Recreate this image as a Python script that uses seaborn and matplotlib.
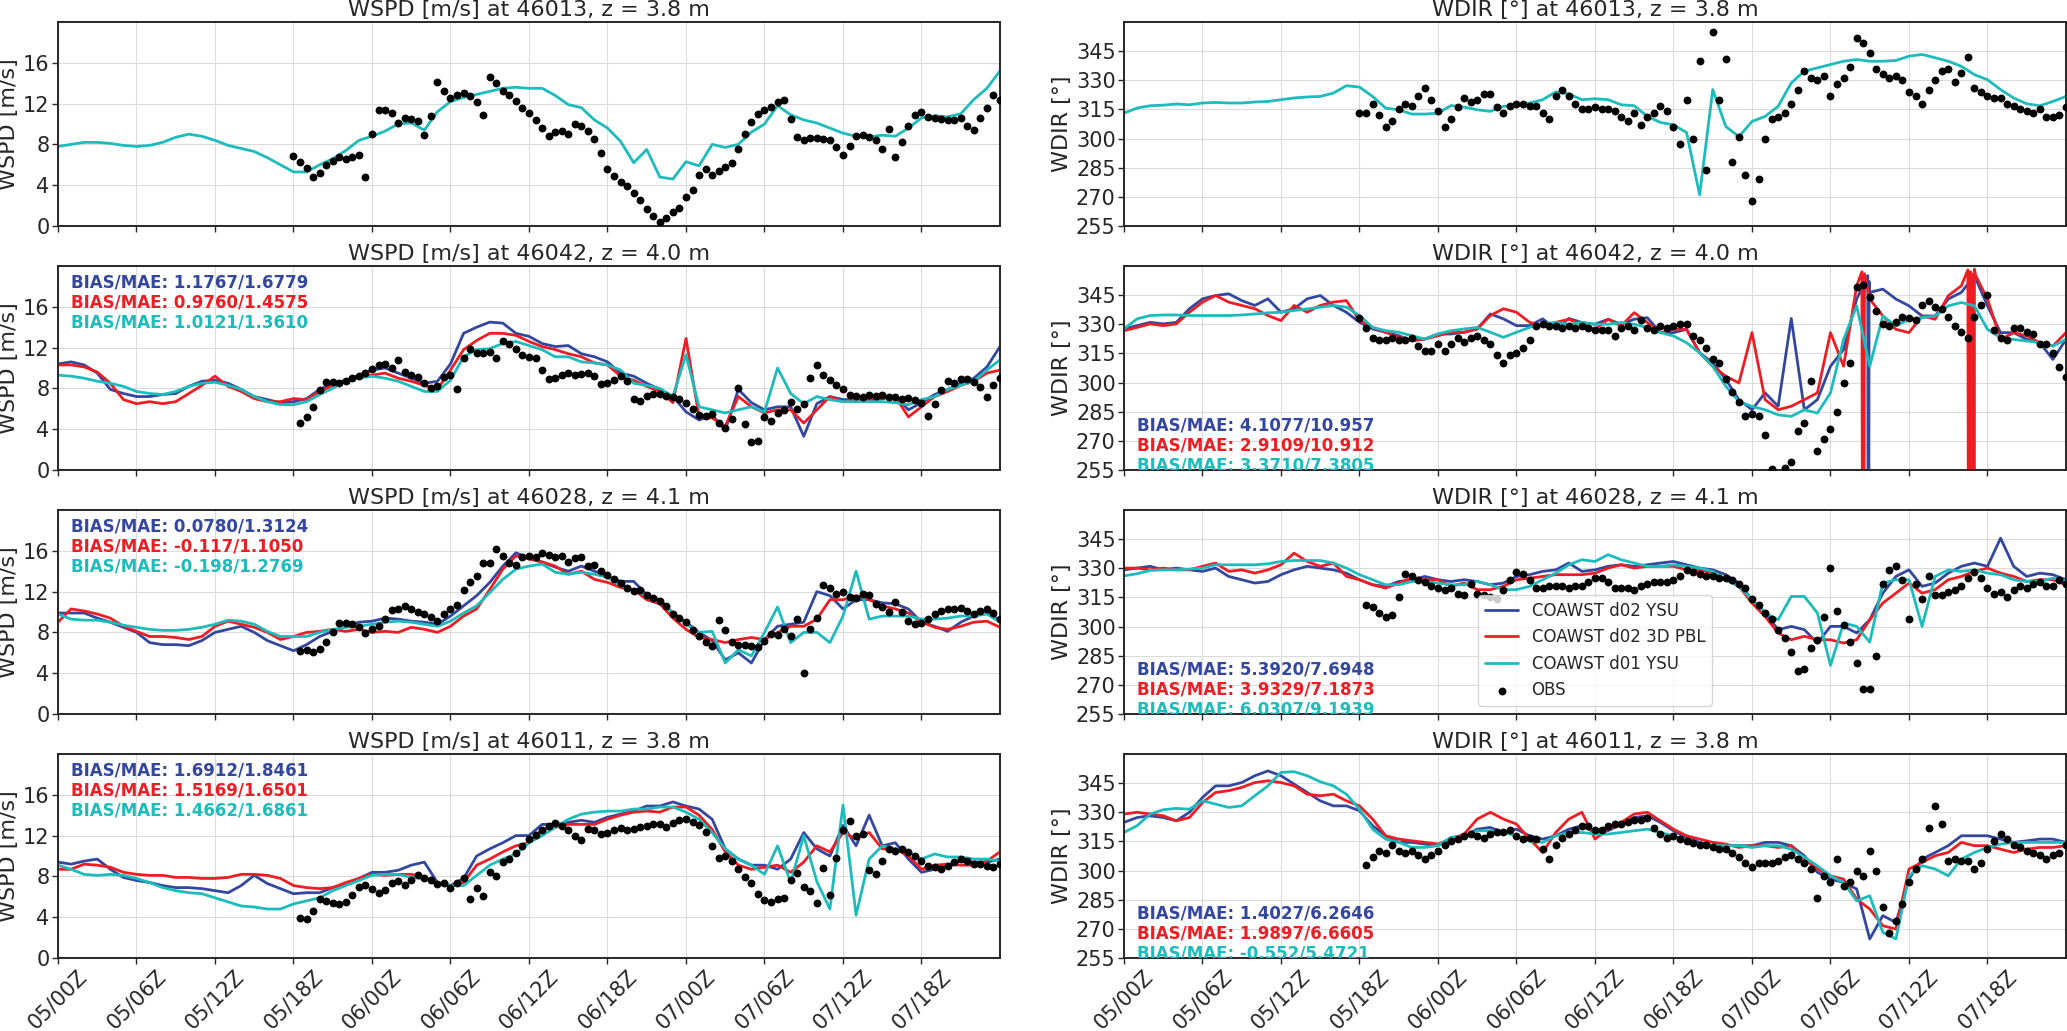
import numpy as np
import pandas as pd
import matplotlib
matplotlib.use("Agg")
import matplotlib.pyplot as plt
import seaborn as sns

# ---- time axes (hours after 05/00Z) ----
START = pd.Timestamp("2000-01-05 00:00")
hours_model = np.arange(0, 73)
hours_obs = np.arange(18, 72.5, 0.5)
tick_hours = np.arange(0, 72, 6)
tick_labels = ["05/00Z", "05/06Z", "05/12Z", "05/18Z", "06/00Z", "06/06Z",
               "06/12Z", "06/18Z", "07/00Z", "07/06Z", "07/12Z", "07/18Z"]

stations = ["46013", "46042", "46028", "46011"]
heights = ["3.8", "4.0", "4.1", "3.8"]

model_labels = ["COAWST d02 YSU", "COAWST d02 3D PBL", "COAWST d01 YSU"]
model_colors = ["#34479f", "#ee1d24", "#1cbcbc"]

# ---- BIAS/MAE strings (rows 46042, 46028, 46011) ----
wspd_stats = [
    ["1.1767/1.6779", "0.9760/1.4575", "1.0121/1.3610"],
    ["0.0780/1.3124", "-0.117/1.1050", "-0.198/1.2769"],
    ["1.6912/1.8461", "1.5169/1.6501", "1.4662/1.6861"],
]
wdir_stats = [
    ["4.1077/10.957", "2.9109/10.912", "3.3710/7.3805"],
    ["5.3920/7.6948", "3.9329/7.1873", "6.0307/9.1939"],
    ["1.4027/6.2646", "1.9897/6.6605", "-0.552/5.4721"],
]

# ================= 46013 =================
wspd_46013_d01 = [
    7.8, 8.0, 8.2, 8.2, 8.1, 7.9, 7.8, 7.9, 8.2, 8.7, 9.0, 8.8,
    8.4, 7.9, 7.6, 7.3, 6.7, 6.0, 5.3, 5.3, 6.0, 6.6, 7.4, 8.4,
    8.8, 9.3, 10.0, 10.1, 9.4, 11.2, 12.2, 12.6, 12.9, 13.2, 13.5, 13.6,
    13.5, 13.5, 12.8, 11.9, 11.6, 10.4, 9.6, 8.3, 6.2, 7.5, 4.8, 4.6,
    6.3, 5.9, 8.0, 7.7, 8.0, 9.2, 10.0, 11.8, 10.9, 10.4, 10.1, 9.6,
    9.1, 8.8, 8.75, 8.9, 8.8, 9.6, 10.6, 10.8, 10.7, 11.0, 12.4, 13.5,
    15.2]
wspd_46013_obs = [
    6.9, 6.3, 5.7, 4.8, 5.2, 6.0, 6.4, 6.8, 6.6, 6.8, 7.0, 4.8,
    9.0, 11.4, 11.4, 11.1, 10.1, 10.6, 10.5, 10.3, 8.9, 10.8, 14.1, 13.2,
    12.5, 12.8, 13.0, 12.7, 12.2, 10.9, 14.6, 14.0, 13.2, 12.8, 12.3, 11.6,
    11.1, 10.4, 9.6, 8.8, 9.2, 9.3, 9.0, 10.0, 9.8, 9.3, 8.5, 7.2,
    5.6, 4.9, 4.3, 3.9, 3.2, 2.5, 1.7, 1.0, 0.4, 0.8, 1.4, 1.8,
    2.8, 3.5, 5.0, 5.6, 5.0, 5.4, 5.8, 6.2, 7.5, 9.0, 10.2, 11.0,
    11.4, 11.7, 12.2, 12.4, 10.5, 8.7, 8.4, 8.6, 8.6, 8.5, 8.4, 7.7,
    7.0, 7.8, 8.8, 8.9, 8.7, 8.4, 7.5, 9.5, 6.8, 8.2, 9.8, 10.9,
    11.2, 10.7, 10.6, 10.5, 10.4, 10.4, 10.6, 9.8, 9.4, 10.6, 11.6, 12.8,
    12.4]
wdir_46013_d01 = [
    313.1, 315.7, 316.9, 317.2, 317.8, 317.4, 318.3, 318.6, 318.3, 318.3, 318.8, 319.1,
    320.0, 320.9, 321.4, 321.7, 323.4, 327.2, 326.5, 321.7, 315.7, 314.8, 312.6, 312.6,
    313.1, 317.0, 316.2, 314.8, 314.0, 316.6, 316.9, 318.3, 320.0, 324.0, 323.0, 320.0,
    320.5, 320.0, 317.4, 316.9, 311.4, 308.3, 307.1, 303.1, 271.0, 325.2, 306.2, 301.0,
    308.8, 311.4, 316.6, 328.6, 334.7, 336.4, 338.1, 339.8, 340.7, 339.8, 339.8, 340.2,
    342.4, 343.3, 341.6, 339.8, 337.2, 332.9, 330.3, 325.2, 320.9, 317.9, 316.9, 319.1,
    321.7]
wdir_46013_obs = [
    313, 313, 318, 312, 306, 309, 315, 318, 317, 322, 326, 320,
    314, 306, 310, 316, 321, 319, 320, 323, 323, 316, 313, 317,
    318, 318, 317, 317, 313, 310, 322, 325, 322, 318, 315, 315,
    316, 315, 315, 314, 311, 309, 313, 307, 311, 313, 317, 314,
    306, 297, 320, 300, 340, 284, 355, 320, 341, 288, 301, 281,
    268, 279, 300, 310, 311, 313, 318, 325, 335, 331, 330, 332,
    322, 328, 331, 337, 352, 349, 344, 336, 333, 331, 332, 330,
    324, 322, 318, 325, 330, 335, 336, 329, 334, 342, 326, 324,
    322, 321, 321, 318, 317, 315, 314, 313, 315, 311, 311, 312,
    316]

# ================= 46042 =================
wspd_46042_d02_ysu = [
    10.4, 10.6, 10.3, 9.5, 7.9, 7.5, 7.2, 7.2, 7.4, 7.5, 8.2, 8.7,
    8.8, 8.5, 7.9, 7.2, 6.9, 6.6, 6.7, 7.0, 7.9, 8.5, 8.8, 9.3,
    9.8, 10.0, 9.5, 9.0, 8.5, 8.7, 10.4, 13.4, 14.0, 14.5, 14.4, 13.4,
    13.1, 12.4, 12.1, 12.2, 11.4, 11.1, 10.6, 9.5, 9.2, 8.5, 7.9, 7.2,
    5.7, 4.9, 5.4, 3.9, 7.9, 6.6, 5.9, 6.2, 6.2, 3.3, 6.5, 7.2,
    6.9, 6.9, 6.7, 7.0, 7.2, 5.9, 6.6, 7.4, 7.9, 8.5, 9.0, 10.1,
    12.1]
wspd_46042_d02_3d = [
    10.3, 10.3, 10.1, 9.6, 8.5, 6.9, 6.5, 6.7, 6.5, 6.7, 7.5, 8.3,
    9.2, 8.2, 7.7, 7.0, 6.7, 6.7, 7.0, 6.9, 7.7, 8.3, 8.7, 9.2,
    9.3, 9.5, 9.0, 8.7, 8.3, 7.9, 9.8, 11.8, 12.7, 13.4, 13.4, 13.2,
    12.6, 12.1, 11.8, 11.4, 11.1, 10.5, 10.3, 9.2, 8.8, 8.2, 7.7, 6.6,
    12.9, 5.2, 5.1, 4.3, 7.2, 6.2, 5.6, 5.9, 5.9, 4.6, 5.9, 7.2,
    6.7, 6.9, 6.9, 7.0, 7.2, 5.2, 6.2, 7.2, 7.7, 8.3, 8.7, 9.5,
    9.8]
wspd_46042_d01_ysu = [
    9.3, 9.2, 9.0, 8.7, 8.5, 8.2, 7.7, 7.5, 7.4, 7.7, 8.2, 8.5,
    8.6, 8.3, 7.9, 7.2, 6.7, 6.4, 6.4, 6.7, 7.4, 8.0, 8.8, 9.0,
    9.2, 9.0, 8.7, 8.2, 7.7, 7.7, 8.8, 11.1, 11.8, 11.9, 12.4, 12.6,
    12.2, 11.8, 11.1, 11.1, 10.6, 10.5, 10.3, 9.8, 8.5, 8.3, 8.0, 7.2,
    11.3, 6.2, 5.9, 5.6, 5.9, 6.2, 5.7, 10.0, 7.5, 6.5, 7.2, 6.9,
    6.7, 6.7, 6.7, 6.7, 6.6, 6.4, 6.9, 7.2, 7.9, 8.3, 8.7, 9.8,
    10.8]
wspd_46042_obs = [
    np.nan, 4.6, 5.2, 6.2, 7.8, 8.6, 8.6, 8.5, 8.7, 9.0, 9.2, 9.5,
    9.9, 10.3, 10.4, 10.0, 10.8, 9.6, 9.3, 9.1, 8.5, 8.0, 8.2, 9.1,
    9.3, 7.9, 11.0, 11.9, 11.5, 11.5, 11.6, 11.0, 12.6, 12.4, 11.9, 11.3,
    11.1, 11.0, 9.8, 8.9, 9.0, 9.3, 9.5, 9.3, 9.4, 9.5, 9.2, 8.4,
    8.5, 8.8, 9.2, 8.7, 7.0, 6.8, 7.3, 7.5, 7.5, 7.3, 7.2, 7.0,
    6.6, 6.0, 5.4, 5.3, 5.5, 4.6, 4.1, 5.0, 8.0, 4.5, 2.7, 2.8,
    5.2, 4.8, 5.6, 5.9, 6.7, 6.0, 6.5, 9.0, 10.3, 9.3, 8.8, 8.3,
    7.9, 7.4, 7.3, 7.2, 7.4, 7.3, 7.4, 7.2, 7.2, 7.0, 7.1, 6.9,
    6.6, 5.3, 6.5, 7.8, 8.7, 8.5, 8.9, 8.9, 8.6, 8.1, 7.2, 8.3,
    9.0]
wdir_46042_d02_ysu = [
    327.6, 329.3, 331.0, 330.2, 331.0, 338.0, 343.1, 344.8, 345.7, 342.2, 339.7, 343.1,
    336.2, 338.0, 343.1, 344.8, 339.7, 336.2, 331.0, 327.6, 325.9, 324.1, 321.6, 322.4,
    325.0, 325.0, 325.9, 327.6, 335.3, 332.8, 329.3, 329.3, 332.8, 327.6, 333.0, 330.9,
    330.0, 332.6, 330.0, 332.6, 333.4, 325.7, 325.7, 327.4, 315.3, 310.2, 301.6, 291.2,
    286.0, 294.7, 287.8, 333.0, 286.0, 291.2, 308.4, 317.0, 343.0, 346.4, 348.1, 343.0,
    339.5, 334.3, 334.3, 343.0, 346.4, 355.0, 339.5, 325.7, 325.7, 322.2, 320.5, 311.9,
    322.2]
wdir_46042_d02_3d = [
    326.7, 328.4, 330.2, 329.3, 330.2, 336.2, 341.4, 344.8, 341.4, 339.7, 338.0, 334.5,
    331.9, 339.7, 336.2, 339.7, 341.4, 342.2, 331.9, 328.4, 325.9, 323.3, 321.6, 322.4,
    324.1, 325.9, 325.9, 327.6, 334.5, 338.0, 336.2, 331.0, 329.3, 331.0, 332.6, 330.0,
    327.4, 332.6, 329.1, 336.0, 330.9, 325.7, 327.4, 327.4, 315.3, 308.4, 303.3, 299.8,
    325.7, 291.2, 286.0, 287.8, 291.2, 294.7, 325.7, 308.4, 349.8, 343.0, 334.3, 327.4,
    325.7, 334.3, 332.6, 344.7, 349.8, 358.4, 343.0, 322.2, 325.7, 324.0, 320.5, 318.8,
    325.7]
wdir_46042_d01_ysu = [
    327.6, 332.8, 334.5, 334.8, 334.8, 334.5, 334.5, 334.5, 334.5, 334.8, 335.3, 335.9,
    336.2, 337.1, 337.9, 338.8, 339.7, 338.8, 334.5, 328.4, 326.7, 325.9, 324.1, 322.4,
    325.0, 326.7, 327.6, 328.4, 325.9, 323.3, 325.9, 328.4, 330.2, 331.0, 330.0, 330.9,
    330.0, 330.0, 330.9, 330.0, 328.3, 325.7, 324.0, 320.5, 315.3, 308.4, 298.1, 290.3,
    287.7, 286.0, 283.4, 282.6, 286.0, 284.3, 294.7, 322.2, 339.5, 308.4, 334.3, 329.1,
    332.6, 333.4, 334.3, 339.5, 341.2, 339.5, 327.4, 323.1, 322.2, 321.4, 320.5, 318.8,
    322.2]
# direction wrapping through north (360 -> 0) at 46042
wdir_46042_wrap_hours_3d = [56.4, 56.5, 56.6, 64.5, 64.6, 64.7, 64.8, 64.9, 65.0, 65.1]
wdir_46042_wrap_values_3d = [357, 3, 356, 358, 2, 357, 4, 356, 2, 355]
wdir_46042_wrap_hours_ysu = [56.85, 56.9, 56.95]
wdir_46042_wrap_values_ysu = [355, 2, 352]
wdir_46042_obs = [
    333, 328, 323, 322, 322, 323, 322, 322, 323, 319, 316, 316,
    320, 316, 320, 323, 321, 323, 324, 322, 320, 314, 310, 314,
    315, 318, 322, 329, 330, 329, 329, 328, 329, 328, 329, 328,
    327, 327, 327, 324, 328, 329, 327, 332, 328, 327, 329, 328,
    329, 330, 330, 324, 322, 318, 312, 310, 302, 295, 290, 283,
    284, 283, 273, 255.5, np.nan, 256, 259, 275, 279, 301, 265, 271,
    276, 285, 300, 310, 349, 350, 344, 337, 330, 329, 331, 334,
    333, 332, 340, 342, 339, 338, 334, 329, 326, 323, 334, 340,
    345, 327, 323, 322, 328, 328, 326, 325, 320, 320, 315, 308,
    303]

# ================= 46028 =================
wspd_46028_d02_ysu = [
    9.9, 9.9, 9.9, 9.4, 9.0, 8.5, 8.0, 7.0, 6.8, 6.8, 6.7, 7.2,
    8.0, 8.3, 8.6, 8.0, 7.2, 6.7, 6.2, 6.8, 7.6, 8.1, 8.6, 9.0,
    9.1, 9.4, 9.3, 9.1, 9.0, 8.8, 9.6, 10.6, 11.6, 12.9, 14.5, 15.8,
    15.3, 14.9, 14.4, 14.0, 14.5, 14.0, 13.5, 13.0, 13.0, 11.7, 11.2, 9.9,
    9.0, 8.0, 7.2, 5.3, 6.0, 5.0, 7.3, 8.6, 8.8, 9.0, 12.0, 11.6,
    10.3, 11.2, 11.2, 10.9, 10.8, 10.3, 9.0, 8.6, 8.1, 9.0, 9.6, 10.1,
    9.1]
wspd_46028_d02_3d = [
    9.0, 10.3, 10.1, 9.8, 9.4, 8.6, 8.1, 7.6, 7.6, 7.5, 7.3, 7.6,
    8.6, 9.1, 8.8, 8.5, 8.0, 7.3, 7.6, 8.0, 8.1, 8.3, 8.1, 8.3,
    8.0, 8.1, 8.0, 8.5, 8.3, 8.0, 8.6, 9.6, 10.3, 12.2, 14.2, 15.5,
    15.2, 14.9, 14.5, 13.7, 14.0, 13.2, 12.9, 12.4, 12.2, 11.2, 10.8, 9.4,
    8.3, 7.5, 7.3, 7.0, 7.3, 7.5, 7.3, 8.0, 8.6, 8.6, 9.3, 11.2,
    11.2, 11.6, 11.2, 10.6, 10.3, 9.9, 9.0, 8.5, 8.3, 8.6, 9.0, 9.1,
    8.5]
wspd_46028_d01_ysu = [
    9.8, 9.3, 9.2, 9.2, 9.0, 8.7, 8.5, 8.3, 8.2, 8.2, 8.3, 8.5,
    8.8, 9.2, 9.1, 8.8, 8.1, 7.6, 7.6, 7.6, 8.0, 8.3, 8.5, 8.6,
    8.8, 9.0, 9.1, 9.0, 8.8, 8.6, 9.1, 9.9, 10.6, 11.9, 13.2, 14.2,
    14.5, 14.7, 13.9, 13.7, 13.9, 13.7, 13.4, 12.6, 12.2, 11.6, 11.1, 9.9,
    8.8, 8.0, 8.1, 5.0, 6.3, 5.7, 8.0, 10.5, 7.0, 8.0, 8.0, 7.0,
    9.6, 14.0, 9.3, 9.6, 9.6, 9.6, 9.3, 9.3, 9.4, 9.6, 9.6, 9.8,
    9.0]
wspd_46028_obs = [
    np.nan, 6.2, 6.3, 6.1, 6.4, 7.1, 8.0, 8.9, 8.9, 8.8, 8.5, 7.9,
    8.3, 8.6, 9.3, 10.2, 10.3, 10.6, 10.3, 10.0, 9.8, 9.5, 9.1, 9.8,
    10.3, 10.7, 12.2, 12.9, 13.5, 14.8, 14.8, 16.2, 15.5, 14.8, 14.6, 15.4,
    15.5, 15.4, 15.8, 15.6, 15.4, 15.5, 14.9, 15.3, 15.4, 14.5, 14.6, 14.0,
    13.6, 13.2, 12.8, 12.4, 12.1, 12.2, 11.7, 11.4, 11.1, 10.6, 9.8, 9.4,
    9.0, 8.2, 7.6, 7.1, 6.7, 9.2, 8.2, 7.1, 6.8, 6.8, 6.7, 6.6,
    7.2, 7.8, 7.7, 8.3, 7.6, 9.3, 4.0, 8.3, 9.4, 12.6, 12.4, 11.8,
    12.0, 11.5, 11.4, 11.8, 11.7, 10.8, 10.5, 10.0, 11.0, 10.0, 9.1, 8.8,
    8.9, 9.3, 9.8, 10.1, 10.3, 10.3, 10.4, 10.1, 9.8, 10.1, 10.3, 9.9,
    9.3]
wdir_46028_d02_ysu = [
    329.2, 330.1, 331.0, 329.2, 330.1, 329.2, 328.4, 330.1, 325.8, 324.1, 322.4, 323.2,
    326.7, 329.2, 331.0, 330.1, 329.2, 327.5, 324.1, 321.5, 320.7, 323.2, 324.1, 325.8,
    324.1, 323.2, 324.1, 323.2, 321.5, 322.4, 325.8, 326.7, 328.4, 329.2, 332.7, 328.4,
    329.2, 331.0, 331.8, 331.0, 331.8, 332.7, 333.5, 331.8, 330.1, 329.2, 326.7, 322.4,
    313.8, 307.0, 298.4, 300.1, 298.4, 291.5, 300.1, 300.1, 296.7, 303.5, 317.2, 325.8,
    329.2, 320.7, 322.4, 327.5, 331.0, 332.7, 331.0, 345.5, 331.0, 325.8, 327.5, 326.7,
    324.1]
wdir_46028_d02_3d = [
    330.1, 330.1, 329.2, 330.1, 329.2, 329.2, 331.0, 332.7, 328.4, 329.2, 327.5, 329.2,
    331.8, 337.8, 333.5, 331.0, 332.7, 325.8, 324.1, 321.5, 319.8, 322.4, 324.9, 324.1,
    324.1, 320.7, 322.4, 319.0, 319.0, 320.7, 324.1, 324.9, 325.8, 326.7, 326.7, 326.7,
    327.5, 330.1, 331.8, 330.1, 331.0, 331.0, 331.0, 329.2, 329.2, 327.5, 324.1, 320.7,
    312.1, 305.2, 296.7, 293.2, 295.0, 293.2, 293.2, 291.5, 293.2, 303.5, 312.1, 317.2,
    322.4, 317.2, 319.0, 324.1, 325.8, 328.4, 330.1, 327.5, 325.8, 323.2, 324.1, 324.1,
    321.5]
wdir_46028_d01_ysu = [
    326.1, 327.2, 328.9, 329.2, 329.2, 329.6, 330.1, 331.8, 331.8, 331.8, 331.8, 332.3,
    333.5, 334.0, 334.0, 334.0, 332.7, 330.1, 326.7, 324.1, 321.5, 321.5, 323.2, 323.2,
    322.4, 321.5, 321.5, 323.2, 321.5, 319.0, 319.0, 320.7, 324.1, 327.5, 331.8, 334.4,
    333.5, 337.0, 334.4, 332.7, 331.0, 331.0, 331.8, 331.0, 330.1, 328.4, 324.1, 320.7,
    313.8, 307.0, 303.5, 315.5, 315.5, 307.0, 280.0, 301.8, 300.1, 292.0, 322.4, 324.1,
    324.1, 300.1, 325.8, 329.2, 328.4, 329.2, 327.5, 326.7, 324.1, 323.2, 323.2, 324.9,
    323.2]
wdir_46028_obs = [
    np.nan, 311, 310, 307, 305, 306, 315, 327, 326, 324, 323, 321,
    320, 319, 320, 317, 316, 322, 317, 316, 315, 314, 319, 324,
    328, 327, 324, 320, 320, 321, 321, 321, 320, 321, 321, 323,
    325, 325, 323, 320, 320, 320, 319, 321, 322, 323, 323, 323,
    324, 326, 329, 328, 327, 326, 326, 325, 325, 324, 322, 320,
    314, 311, 307, 304, 298, 294, 287, 277, 278, 289, 293, 305,
    330, 308, 301, 292, 281, 268, 268, 285, 322, 329, 331, 324,
    304, 322, 314, 326, 316, 316, 318, 319, 321, 325, 328, 325,
    320, 317, 318, 315, 319, 321, 320, 322, 323, 321, 321, 324,
    322]

# ================= 46011 =================
wspd_46011_d02_ysu = [
    9.4, 9.2, 9.5, 9.7, 8.7, 7.9, 7.6, 7.4, 7.1, 6.9, 6.9, 6.8,
    6.6, 6.4, 7.1, 8.1, 7.3, 6.8, 6.3, 6.4, 6.4, 6.9, 7.3, 7.8,
    8.4, 8.4, 8.6, 9.1, 9.4, 7.4, 7.1, 7.8, 10.0, 10.7, 11.3, 12.0,
    12.0, 13.1, 13.1, 13.3, 13.5, 13.3, 13.8, 14.1, 14.4, 14.9, 14.9, 15.3,
    14.9, 14.6, 13.6, 10.7, 9.7, 9.1, 9.1, 8.7, 9.7, 12.3, 10.7, 10.0,
    13.0, 11.0, 14.0, 11.0, 11.3, 9.7, 8.4, 8.7, 9.1, 9.5, 9.4, 9.4,
    9.7]
wspd_46011_d02_3d = [
    8.7, 8.7, 9.2, 9.1, 8.9, 8.4, 8.2, 8.1, 8.1, 7.9, 7.9, 7.8,
    7.8, 7.9, 8.2, 8.2, 8.1, 7.8, 7.1, 6.9, 6.8, 6.9, 7.4, 7.8,
    8.2, 8.1, 8.2, 8.2, 7.9, 7.4, 7.1, 7.4, 9.1, 9.7, 10.4, 11.0,
    11.3, 12.6, 12.8, 13.1, 13.1, 13.1, 13.6, 14.0, 14.3, 14.4, 14.3, 14.8,
    14.8, 14.0, 12.6, 10.4, 9.1, 8.7, 8.9, 9.1, 8.4, 9.4, 11.0, 10.4,
    12.3, 11.7, 12.3, 10.7, 10.7, 10.0, 8.7, 9.1, 9.2, 9.1, 9.1, 9.5,
    10.4]
wspd_46011_d01_ysu = [
    9.1, 8.7, 8.2, 8.1, 8.2, 8.1, 7.8, 7.4, 6.9, 6.6, 6.4, 6.3,
    5.9, 5.5, 5.1, 5.0, 4.8, 4.8, 5.3, 5.6, 5.9, 6.6, 7.1, 7.6,
    8.1, 8.2, 8.2, 7.9, 7.8, 7.3, 7.1, 7.1, 8.1, 9.1, 9.7, 10.2,
    11.3, 12.0, 12.8, 13.6, 14.1, 14.3, 14.4, 14.4, 14.6, 14.6, 14.8, 14.8,
    14.3, 13.6, 12.3, 10.7, 9.7, 9.1, 8.2, 11.0, 7.4, 12.0, 7.5, 4.8,
    15.0, 4.2, 9.7, 11.0, 10.7, 10.4, 9.7, 10.2, 9.9, 9.9, 9.7, 9.7,
    9.5]
wspd_46011_obs = [
    np.nan, 3.9, 3.8, 4.6, 5.8, 5.6, 5.4, 5.3, 5.5, 6.2, 7.0, 7.2,
    6.8, 6.4, 6.7, 7.4, 7.5, 7.2, 7.6, 8.1, 7.8, 7.6, 7.3, 7.4,
    6.9, 7.4, 7.8, 5.8, 6.9, 6.1, 8.4, 8.0, 9.4, 9.7, 10.3, 11.0,
    11.7, 12.1, 12.5, 12.9, 13.2, 12.9, 12.5, 12.0, 11.6, 12.6, 12.5, 12.2,
    12.3, 12.5, 12.7, 12.5, 12.6, 12.8, 12.9, 13.1, 13.1, 12.8, 13.2, 13.5,
    13.6, 13.3, 13.0, 12.4, 11.0, 9.8, 10.0, 9.5, 8.7, 7.9, 7.4, 6.3,
    5.7, 5.5, 5.8, 5.9, 7.6, 8.3, 7.0, 6.6, 5.4, 8.8, 6.2, 9.8,
    12.5, 13.4, 12.0, 12.2, 8.6, 8.2, 9.5, 10.7, 10.5, 10.7, 10.4, 10.0,
    9.5, 9.0, 8.9, 8.7, 9.0, 9.4, 9.7, 9.5, 9.2, 9.2, 9.05, 8.9,
    9.2]
wdir_46011_d02_ysu = [
    324.8, 327.3, 328.2, 327.3, 325.6, 330.0, 337.6, 343.6, 343.6, 345.3, 348.8, 351.3,
    348.8, 344.5, 340.2, 335.9, 333.3, 333.3, 330.8, 323.1, 317.9, 314.5, 314.5, 313.6,
    312.8, 317.0, 317.9, 321.3, 322.2, 319.6, 321.3, 317.9, 316.2, 317.9, 321.3, 323.1,
    319.6, 320.5, 323.9, 327.3, 328.2, 324.8, 320.5, 317.0, 314.5, 312.8, 312.8, 312.8,
    312.8, 314.5, 314.5, 312.8, 307.6, 299.1, 295.6, 293.9, 290.5, 264.8, 276.8, 273.3,
    295.6, 305.9, 309.3, 312.8, 317.9, 317.9, 317.9, 316.2, 314.5, 315.3, 316.2, 316.2,
    314.5]
wdir_46011_d02_3d = [
    329.1, 330.0, 329.1, 328.2, 325.6, 327.3, 335.0, 340.2, 341.1, 342.8, 345.3, 346.2,
    345.3, 343.6, 339.3, 338.5, 339.3, 335.9, 333.3, 326.5, 317.9, 316.2, 315.3, 314.5,
    313.6, 316.2, 318.8, 326.5, 330.0, 326.5, 323.9, 316.2, 309.3, 319.6, 326.5, 330.0,
    316.2, 321.3, 324.8, 329.1, 330.0, 325.6, 321.3, 317.9, 316.2, 314.5, 313.6, 311.9,
    312.8, 312.8, 311.9, 312.8, 305.9, 300.8, 297.3, 295.6, 285.3, 280.2, 271.6, 269.9,
    300.8, 304.2, 307.6, 309.3, 314.5, 312.8, 312.8, 311.0, 309.3, 311.0, 311.9, 311.9,
    312.8]
wdir_46011_d01_ysu = [
    319.6, 323.1, 329.1, 331.3, 332.0, 331.6, 335.9, 334.2, 332.5, 333.3, 338.5, 343.6,
    350.5, 350.9, 348.8, 345.7, 343.6, 339.3, 331.6, 321.3, 316.2, 314.5, 311.9, 311.9,
    312.8, 317.0, 317.9, 320.5, 320.5, 319.6, 317.9, 315.3, 314.5, 317.9, 319.6, 319.6,
    318.8, 318.8, 319.6, 320.5, 321.3, 319.6, 317.9, 314.5, 313.6, 312.8, 312.8, 312.8,
    311.9, 312.8, 312.8, 311.0, 306.8, 302.5, 297.3, 293.9, 284.4, 287.0, 268.2, 264.8,
    297.3, 302.5, 300.8, 297.3, 305.9, 309.3, 311.9, 313.6, 314.5, 314.5, 314.5, 314.5,
    314.5]
wdir_46011_obs = [
    np.nan, 303, 307, 310, 309, 313, 310, 309, 310, 308, 306, 308,
    310, 313, 315, 316, 318, 319, 318, 317, 319, 320, 320, 321,
    318, 316, 317, 316, 311, 306, 313, 317, 319, 321, 323, 323,
    321, 321, 323, 324, 324, 325, 326, 326, 327, 322, 319, 317,
    318, 316, 315, 314, 313, 313, 312, 311, 311, 309, 307, 304,
    302, 304, 304, 304, 305, 307, 308, 306, 304, 301, 286, 297,
    294, 306, 292, 294, 300, 297, 310, 300, 281, 268, 274, 283,
    294, 301, 306, 322, 333, 324, 305, 306, 305, 305, 301, 304,
    311, 315, 319, 316, 313, 312, 310, 309, 308, 306, 308, 309,
    313]

# ---- panel tables built from the arrays above ----
wspd_models = [
    [None, None, wspd_46013_d01],
    [wspd_46042_d02_ysu, wspd_46042_d02_3d, wspd_46042_d01_ysu],
    [wspd_46028_d02_ysu, wspd_46028_d02_3d, wspd_46028_d01_ysu],
    [wspd_46011_d02_ysu, wspd_46011_d02_3d, wspd_46011_d01_ysu],
]
wspd_obs = [wspd_46013_obs, wspd_46042_obs, wspd_46028_obs, wspd_46011_obs]
wdir_models = [
    [None, None, wdir_46013_d01],
    [wdir_46042_d02_ysu, wdir_46042_d02_3d, wdir_46042_d01_ysu],
    [wdir_46028_d02_ysu, wdir_46028_d02_3d, wdir_46028_d01_ysu],
    [wdir_46011_d02_ysu, wdir_46011_d02_3d, wdir_46011_d01_ysu],
]
wdir_obs = [wdir_46013_obs, wdir_46042_obs, wdir_46028_obs, wdir_46011_obs]
wdir_wraps = {
    (1, 0): (wdir_46042_wrap_hours_ysu, wdir_46042_wrap_values_ysu),
    (1, 1): (wdir_46042_wrap_hours_3d, wdir_46042_wrap_values_3d),
}


def to_time(h):
    return START + pd.to_timedelta(np.asarray(h, dtype=float), unit="h")


sns.set_style("whitegrid", {"axes.edgecolor": "0.15", "grid.color": "0.86",
                            "xtick.bottom": True, "ytick.left": True})
plt.rcParams["font.family"] = ["DejaVu Sans"]

fig = plt.figure(figsize=(20.67, 10.31), dpi=100)
col_left = [0.02806, 0.54378]
width = 0.45573
row_bottom = [0.78080, 0.54413, 0.30747, 0.07081]
height = 0.19787


def draw_panel(ax, models, obs, wraps, row):
    for k, series in enumerate(models):
        if series is None:
            continue
        h = hours_model
        v = np.asarray(series, dtype=float)
        if (row, k) in wraps:
            wh, wv = wraps[(row, k)]
            h = np.concatenate([h, wh])
            v = np.concatenate([v, wv])
        sns.lineplot(x=to_time(h), y=v, ax=ax, color=model_colors[k], lw=2.0,
                     label=model_labels[k], legend=False, estimator=None, sort=True)
    sns.scatterplot(x=to_time(hours_obs), y=np.asarray(obs, dtype=float), ax=ax,
                    color="black", s=32, linewidth=0, label="OBS", legend=False,
                    zorder=3)


for r in range(4):
    for c in range(2):
        ax = fig.add_axes([col_left[c], row_bottom[r], width, height])
        if c == 0:
            draw_panel(ax, wspd_models[r], wspd_obs[r], {}, r)
            ax.set_ylim(0, 20)
            ax.set_yticks([0, 4, 8, 12, 16])
            ax.set_ylabel("WSPD [m/s]", fontsize=16, labelpad=3)
            ax.set_title(f"WSPD [m/s] at {stations[r]}, z = {heights[r]} m", fontsize=16, pad=4)
        else:
            wr = {(1, 0): wdir_wraps[(1, 0)], (1, 1): wdir_wraps[(1, 1)]} if r == 1 else {}
            draw_panel(ax, wdir_models[r], wdir_obs[r], wr, r)
            ax.set_ylim(255, 360)
            ax.set_yticks(np.arange(255, 346, 15))
            ax.set_ylabel("WDIR [°]", fontsize=16, labelpad=3)
            ax.set_title(f"WDIR [°] at {stations[r]}, z = {heights[r]} m", fontsize=16, pad=4)

        ax.set_xlim(START, START + pd.Timedelta(hours=72))
        ax.set_xticks(to_time(tick_hours))
        ax.set_xlabel("")
        ax.tick_params(axis="both", labelsize=15, length=4, width=1, pad=2)
        if r < 3:
            ax.tick_params(axis="x", labelbottom=False)
        else:
            ax.set_xticklabels(tick_labels, rotation=45)
        for s in ax.spines.values():
            s.set_linewidth(1.4)

        if r > 0:
            stats = wspd_stats[r - 1] if c == 0 else wdir_stats[r - 1]
            for k in range(3):
                if c == 0:
                    y = 0.965 - 0.098 * k
                else:
                    y = 0.262 - 0.097 * k
                ax.text(0.014, y, f"BIAS/MAE: {stats[k]}", transform=ax.transAxes,
                        color=model_colors[k], fontsize=12, fontweight="bold",
                        va="top", ha="left", clip_on=True, zorder=6)

        if r == 2 and c == 1:
            ax.legend(loc="lower center", fontsize=12, framealpha=0.8)

fig.savefig("out.png", dpi=100)
